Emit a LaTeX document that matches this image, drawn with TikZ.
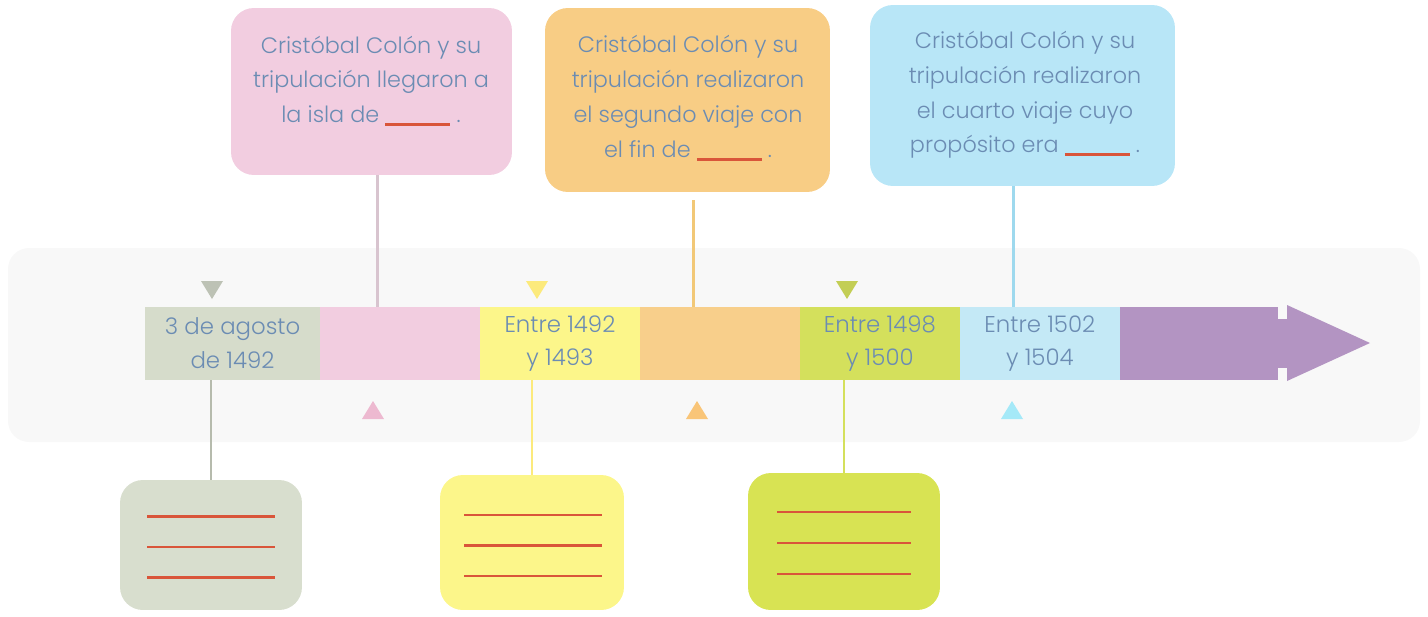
\documentclass[tikz,border=0pt]{standalone}
\usepackage{fontspec}
\setmainfont{Poppins Light}
\usetikzlibrary{positioning}
\usepackage{xcolor}

\definecolor{letra}{HTML}{6B8CB3}
\definecolor{rojo}{HTML}{D9553A}
\definecolor{fondo}{HTML}{F8F8F8}
\definecolor{rosa}{HTML}{F2CDE0}
\definecolor{naranja}{HTML}{F8CD85}
\definecolor{celeste}{HTML}{B8E6F7}
\definecolor{gris}{HTML}{D6DCCB}
\definecolor{amarillo}{HTML}{FCF68A}
\definecolor{verde}{HTML}{D4E05C}
\definecolor{azul}{HTML}{C4E9F6}
\definecolor{morado}{HTML}{B394C2}
\definecolor{linrosa}{HTML}{D8C4CF}
\definecolor{linnaranja}{HTML}{F2C877}
\definecolor{linceleste}{HTML}{9ED9EE}

\newcommand{\hueco}{\textcolor{rojo}{\rule[-2pt]{1.3cm}{1.7pt}}}

\begin{document}
\begin{tikzpicture}[x=0.02cm, y=-0.02cm,
  caja/.style={rounded corners=13pt, inner sep=0pt},
  pregunta/.style={text=letra, align=center, inner sep=0pt, font=\fontsize{12.7}{19.8}\selectfont},
  tramo/.style={minimum height=1.46cm, minimum width=3.2cm, inner sep=0pt, outer sep=0pt,
    text=letra, align=center, font=\fontsize{13}{19.2}\selectfont},
  enlace/.style={line width=1.3pt},
  renglon/.style={rojo, line width=1.6pt}
]
\useasboundingbox (0,0) rectangle (1428,616);
\fill[fondo, rounded corners=12pt] (8,248) rectangle (1420,442);

% preguntas de arriba
\node[caja, fill=rosa, minimum width=5.62cm, minimum height=3.34cm] (qrosa) at (371.5,91.5) {};
\node[pregunta] (trosa) at (371,81) {Cristóbal Colón y su\\tripulación llegaron a\\la isla de \hueco\ .};
\node[caja, fill=naranja, minimum width=5.7cm, minimum height=3.68cm] (qnaranja) at (687.5,100) {};
\node[pregunta] (tnaranja) at (688,98) {Cristóbal Colón y su\\tripulación realizaron\\el segundo viaje con\\el fin de \hueco\ .};
\node[caja, fill=celeste, minimum width=6.1cm, minimum height=3.62cm] (qceleste) at (1022.5,95.5) {};
\node[pregunta] (tceleste) at (1025,95) {Cristóbal Colón y su\\tripulación realizaron\\el cuarto viaje cuyo\\propósito era \hueco\ .};

% linea de tiempo
\node[tramo, fill=gris, minimum width=3.5cm, anchor=west] (t1) at (145,343.5) {3 de agosto\\de 1492};
\node[tramo, fill=rosa, right=0pt of t1] (t2) {};
\node[tramo, fill=amarillo, right=0pt of t2] (t3) {Entre 1492\\y 1493};
\node[tramo, fill=naranja!95!white, right=0pt of t3] (t4) {};
\node[tramo, fill=verde, right=0pt of t4] (t5) {Entre 1498\\y 1500};
\node[tramo, fill=azul, right=0pt of t5] (t6) {Entre 1502\\y 1504};
\node[tramo, fill=morado, minimum width=3.16cm, right=0pt of t6] (t7) {};
\fill[morado] (1276,319) rectangle (1288,368);
\fill[morado] (1287,305) -- (1370,343) -- (1287,381) -- cycle;

% triangulos
\foreach \x/\c in {212/gris!85!black!90, 537/amarillo!90!orange, 847/verde!92!black}
  \fill[\c] (\x-11,281) -- (\x+11,281) -- (\x,299) -- cycle;
\foreach \x/\c in {373/rosa!90!purple, 697/naranja!90!orange, 1012/celeste!90!cyan}
  \fill[\c] (\x-11,419) -- (\x+11,419) -- (\x,401) -- cycle;

% respuestas de abajo
\node[caja, fill=gris!95!white, minimum width=3.64cm, minimum height=2.6cm] (rgris) at (211,545) {};
\node[caja, fill=amarillo, minimum width=3.68cm, minimum height=2.7cm] (ramarillo) at (532,542.5) {};
\node[caja, fill=verde!90!yellow, minimum width=3.84cm, minimum height=2.74cm] (rverde) at (844,541.5) {};
\foreach \k in {-1,0,1} {
  \draw[renglon] ([shift={(-64,\k*30.5+2)}]rgris.center) -- ++(128,0);
  \draw[renglon] ([shift={(-68,\k*30.5+3)}]ramarillo.center) -- ++(138,0);
  \draw[renglon] ([shift={(-67,\k*31+1.5)}]rverde.center) -- ++(134,0);
}

% conectores
\draw[enlace, linrosa] ([shift={(6,0)}]qrosa.south) -- ([shift={(6,0)}]qrosa.south |- t2.north);
\draw[enlace, linnaranja] ([shift={(6,8)}]qnaranja.south) -- ([shift={(6,0)}]qnaranja.south |- t4.north);
\draw[enlace, linceleste] ([shift={(-9,0)}]qceleste.south) -- ([shift={(-9,0)}]qceleste.south |- t6.north);
\draw[enlace, gris!85!black] (rgris.north) -- (rgris.north |- t1.south);
\draw[enlace, amarillo!90!orange] (ramarillo.north) -- (ramarillo.north |- t3.south);
\draw[enlace, verde] (rverde.north) -- (rverde.north |- t5.south);

\end{tikzpicture}
\end{document}
